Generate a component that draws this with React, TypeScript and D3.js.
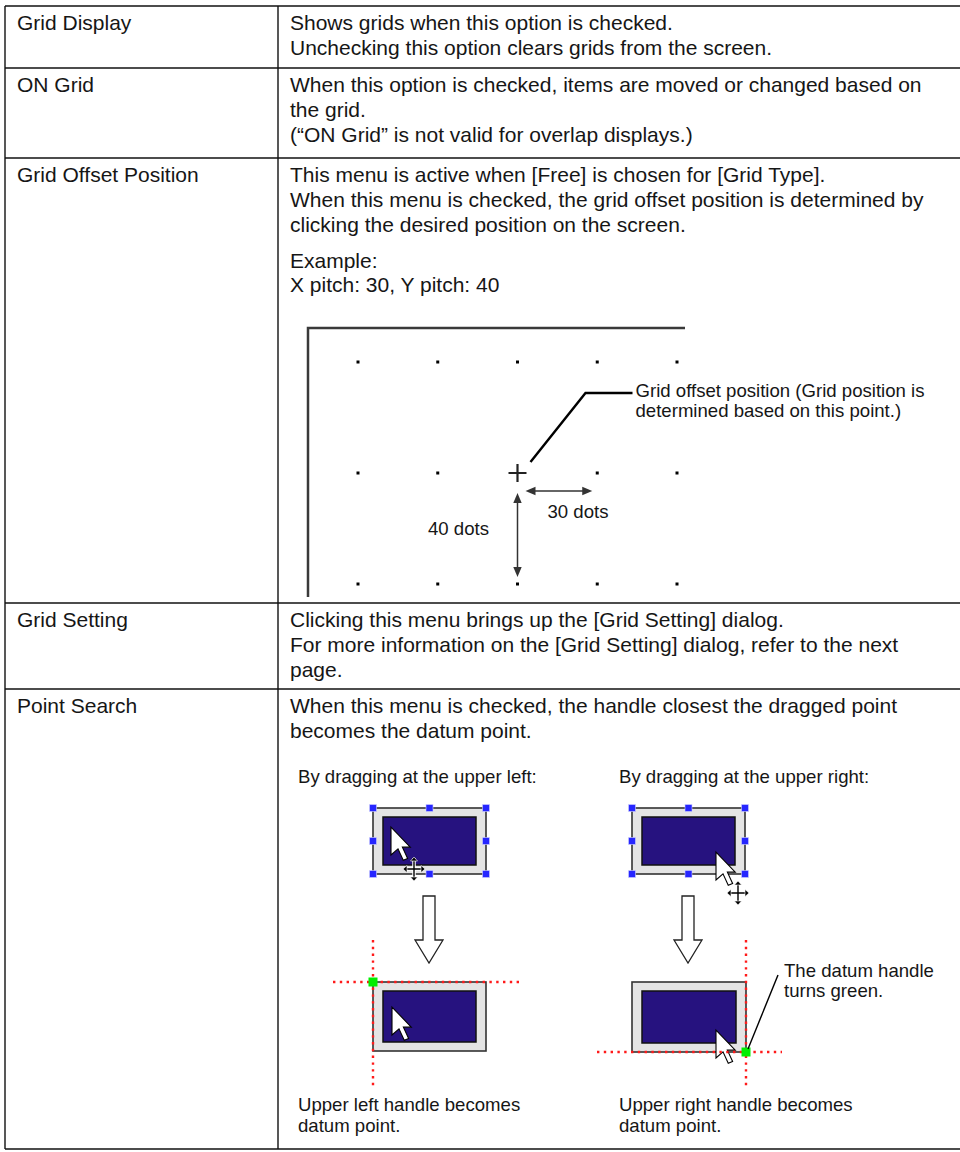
import React, { useEffect, useRef } from 'react';
import * as d3 from 'd3';

// table content
const rowLabels = ['Grid Display', 'ON Grid', 'Grid Offset Position', 'Grid Setting', 'Point Search'];
const rowDescriptions = [
  ['Shows grids when this option is checked.', 'Unchecking this option clears grids from the screen.'],
  ['When this option is checked, items are moved or changed based on', 'the grid.', '(\u201cON Grid\u201d is not valid for overlap displays.)'],
  ['This menu is active when [Free] is chosen for [Grid Type].', 'When this menu is checked, the grid offset position is determined by', 'clicking the desired position on the screen.'],
  ['Clicking this menu brings up the [Grid Setting] dialog.', 'For more information on the [Grid Setting] dialog, refer to the next', 'page.'],
  ['When this menu is checked, the handle closest the dragged point', 'becomes the datum point.'],
];
const exampleLines = ['Example:', 'X pitch: 30, Y pitch: 40'];

// grid example (dots)
const gridXValues = [0, 30, 60, 90, 120];
const gridYValues = [0, 40, 80];
const offsetPoint = [60, 40];
const pitchLabels = ['30 dots', '40 dots'];
const offsetNote = ['Grid offset position (Grid position is', 'determined based on this point.)'];

// point search example
const dragCaptions = ['By dragging at the upper left:', 'By dragging at the upper right:'];
const resultCaptions = [['Upper left handle becomes', 'datum point.'], ['Upper right handle becomes', 'datum point.']];
const datumNote = ['The datum handle', 'turns green.'];

const FONT = '"Liberation Sans", Arial, Helvetica, sans-serif';

const App = () => {
  const svgRef = useRef<SVGSVGElement>(null);

  useEffect(() => {
    const svg = d3.select(svgRef.current);
    svg.selectAll('*').remove();

    const rowEdges = [6, 68, 158, 603, 689, 1149];
    const colX = [5, 278, 962];
    const lineStep = 25;
    const bodySize = 21;
    const smallSize = 18.6;

    // table frame
    const table = svg.append('g').attr('stroke', '#111').attr('stroke-width', 1.4);
    table.selectAll('line.row')
      .data(rowEdges)
      .join('line')
      .attr('x1', colX[0]).attr('x2', colX[2])
      .attr('y1', d => d).attr('y2', d => d);
    table.selectAll('line.col')
      .data(colX)
      .join('line')
      .attr('x1', d => d).attr('x2', d => d)
      .attr('y1', rowEdges[0]).attr('y2', rowEdges[rowEdges.length - 1]);

    const text = svg.append('g').attr('font-family', FONT).attr('font-size', bodySize).attr('fill', '#161616');
    rowLabels.forEach((lab, i) => {
      text.append('text').attr('x', 17).attr('y', rowEdges[i] + 24).text(lab);
      text.selectAll(null)
        .data(rowDescriptions[i])
        .join('text')
        .attr('x', 290)
        .attr('y', (d, j) => rowEdges[i] + 24 + j * lineStep)
        .text(d => d);
    });
    text.selectAll(null)
      .data(exampleLines)
      .join('text')
      .attr('x', 290)
      .attr('y', (d, j) => rowEdges[2] + 24 + 2 * lineStep + 36 + j * 24)
      .text(d => d);

    // ---- grid offset diagram ----
    const x = d3.scaleLinear().domain([0, 120]).range([358, 677]);
    const y = d3.scaleLinear().domain([0, 80]).range([362, 584]);
    const dg = svg.append('g');

    dg.append('path')
      .attr('d', 'M308,597 V328 H685')
      .attr('fill', 'none')
      .attr('stroke', '#3a3a3a')
      .attr('stroke-width', 2.5);

    const pts = d3.cross(gridXValues, gridYValues).filter(([gx, gy]) => !(gx === offsetPoint[0] && gy === offsetPoint[1]));
    dg.selectAll('rect.dot')
      .data(pts)
      .join('rect')
      .attr('x', d => x(d[0]) - 1.5)
      .attr('y', d => y(d[1]) - 1.5)
      .attr('width', 3)
      .attr('height', 3)
      .attr('fill', '#000');

    const ox = x(offsetPoint[0]);
    const oy = y(offsetPoint[1]);
    dg.append('path')
      .attr('d', `M${ox - 9},${oy} H${ox + 9} M${ox},${oy - 9} V${oy + 9}`)
      .attr('stroke', '#222')
      .attr('stroke-width', 2.2);

    dg.append('path')
      .attr('d', `M${ox + 13},${oy - 11} L${ox + 68},${oy - 80} H${ox + 115}`)
      .attr('fill', 'none')
      .attr('stroke', '#000')
      .attr('stroke-width', 2.4);
    dg.selectAll('text.note')
      .data(offsetNote)
      .join('text')
      .attr('x', ox + 118)
      .attr('y', (d, j) => oy - 76 + j * 20)
      .attr('font-family', FONT)
      .attr('font-size', smallSize)
      .attr('fill', '#161616')
      .text(d => d);

    const arrowHead = (tx: number, ty: number, dx: number, dy: number) => {
      const L = 10, W = 4.2;
      const bx = tx - dx * L, by = ty - dy * L;
      return `M${tx},${ty} L${bx - dy * W},${by + dx * W} L${bx + dy * W},${by - dx * W} Z`;
    };
    // horizontal pitch arrow
    const hx0 = ox + 8, hx1 = x(offsetPoint[0] + 30) - 5, hy = oy + 18;
    dg.append('line').attr('x1', hx0 + 6).attr('x2', hx1 - 6).attr('y1', hy).attr('y2', hy)
      .attr('stroke', '#333').attr('stroke-width', 1.5);
    dg.append('path').attr('d', arrowHead(hx0, hy, -1, 0)).attr('fill', '#333');
    dg.append('path').attr('d', arrowHead(hx1, hy, 1, 0)).attr('fill', '#333');
    // vertical pitch arrow
    const vy0 = oy + 20, vy1 = y(offsetPoint[1] + 40) - 7;
    dg.append('line').attr('x1', ox).attr('x2', ox).attr('y1', vy0 + 6).attr('y2', vy1 - 6)
      .attr('stroke', '#333').attr('stroke-width', 1.5);
    dg.append('path').attr('d', arrowHead(ox, vy0, 0, -1)).attr('fill', '#333');
    dg.append('path').attr('d', arrowHead(ox, vy1, 0, 1)).attr('fill', '#333');

    dg.append('text').attr('x', 578).attr('y', hy + 27)
      .attr('text-anchor', 'middle').attr('font-family', FONT).attr('font-size', smallSize).attr('fill', '#161616')
      .text(pitchLabels[0]);
    dg.append('text').attr('x', ox - 59).attr('y', oy + 62)
      .attr('text-anchor', 'middle').attr('font-family', FONT).attr('font-size', smallSize).attr('fill', '#161616')
      .text(pitchLabels[1]);

    // ---- point search diagram ----
    const ps = svg.append('g');
    const capX = [298, 619];
    dragCaptions.forEach((c, i) => {
      ps.append('text').attr('x', capX[i]).attr('y', 783)
        .attr('font-family', FONT).attr('font-size', smallSize).attr('fill', '#161616').text(c);
    });
    resultCaptions.forEach((lines, i) => {
      ps.selectAll(null).data(lines).join('text')
        .attr('x', capX[i]).attr('y', (d, j) => 1111 + j * 21)
        .attr('font-family', FONT).attr('font-size', smallSize).attr('fill', '#161616').text(d => d);
    });

    const cursor = (cx: number, cy: number) => {
      const s = 1.75;
      const p = [[0, 0], [0, 16], [4, 12.5], [7, 19], [9.5, 18], [6.5, 11.5], [11, 11.5]]
        .map(([a, b]) => [cx + a * s, cy + b * s] as [number, number]);
      ps.append('path').attr('d', d3.line()(p) + 'Z')
        .attr('fill', '#fff').attr('stroke', '#000').attr('stroke-width', 1.1).attr('stroke-linejoin', 'miter');
    };

    const moveCursor = (cx: number, cy: number) => {
      const g = ps.append('g').attr('transform', `translate(${cx},${cy})`);
      const body = 'M-10,0 H10 M0,-11 V11';
      g.append('path').attr('d', body).attr('stroke', '#fff').attr('stroke-width', 3.5);
      g.append('path').attr('d', body).attr('stroke', '#000').attr('stroke-width', 1.4);
      const heads = 'M-11,0 L-7,-3.5 L-7,3.5 Z M11,0 L7,-3.5 L7,3.5 Z M0,-12 L-3.5,-8 L3.5,-8 Z M0,12 L-3.5,8 L3.5,8 Z';
      g.append('path').attr('d', heads).attr('fill', '#000').attr('stroke', '#fff').attr('stroke-width', 0.6);
    };

    const box = (x0: number, y0: number, x1: number, y1: number) => {
      ps.append('rect').attr('x', x0).attr('y', y0).attr('width', x1 - x0).attr('height', y1 - y0)
        .attr('fill', '#e4e4e4').attr('stroke', '#333').attr('stroke-width', 1.6);
      ps.append('rect').attr('x', x0 + 10).attr('y', y0 + 9).attr('width', x1 - x0 - 20).attr('height', y1 - y0 - 18)
        .attr('fill', '#26127f').attr('stroke', '#111').attr('stroke-width', 1.5);
    };

    const handles = (x0: number, y0: number, x1: number, y1: number) => {
      const hx = [x0, (x0 + x1) / 2, x1];
      const hy = [y0, (y0 + y1) / 2, y1];
      const hp = d3.cross(hx, hy).filter(([a, b]) => !(a === hx[1] && b === hy[1]));
      ps.selectAll(null).data(hp).join('rect')
        .attr('x', d => d[0] - 3.5).attr('y', d => d[1] - 3.5)
        .attr('width', 7).attr('height', 7)
        .attr('fill', '#2626ff').attr('stroke', '#cfd0ff').attr('stroke-width', 0.6);
    };

    const before = [[373, 808, 486, 874], [632, 808, 745, 874]];
    before.forEach(([x0, y0, x1, y1]) => { box(x0, y0, x1, y1); handles(x0, y0, x1, y1); });
    cursor(391, 827);
    moveCursor(414, 869);
    cursor(716, 852);
    moveCursor(738, 893);

    // hollow arrows
    [429, 688].forEach(cx => {
      const p = `M${cx - 6},896 V940 H${cx - 14} L${cx},963 L${cx + 14},940 H${cx + 6} V896 Z`;
      ps.append('path').attr('d', p).attr('fill', '#fff').attr('stroke', '#222').attr('stroke-width', 1.3);
    });

    const after = [[373, 982, 486, 1051], [632, 982, 746, 1052]];
    after.forEach(([x0, y0, x1, y1]) => box(x0, y0, x1, y1));
    cursor(392, 1007);
    cursor(716, 1030);

    const dotted = (x1: number, y1: number, x2: number, y2: number) => {
      ps.append('line').attr('x1', x1).attr('y1', y1).attr('x2', x2).attr('y2', y2)
        .attr('stroke', '#ff1a1a').attr('stroke-width', 2.4).attr('stroke-dasharray', '2.4,4.4');
    };
    dotted(373, 940, 373, 1087);
    dotted(333, 982, 520, 982);
    dotted(746, 940, 746, 1087);
    dotted(597, 1052, 782, 1052);

    [[373, 982], [746, 1052]].forEach(([gx, gy]) => {
      ps.append('rect').attr('x', gx - 4.5).attr('y', gy - 4.5).attr('width', 9).attr('height', 9).attr('fill', '#00ee00');
    });

    ps.append('line').attr('x1', 748).attr('y1', 1049).attr('x2', 778).attr('y2', 975)
      .attr('stroke', '#000').attr('stroke-width', 1.4);
    ps.selectAll(null).data(datumNote).join('text')
      .attr('x', 784).attr('y', (d, j) => 977 + j * 20)
      .attr('font-family', FONT).attr('font-size', smallSize).attr('fill', '#161616').text(d => d);
  }, []);

  return (
    <svg
      ref={svgRef}
      width={960}
      height={1152}
      style={{ position: 'absolute', left: 0, top: 0, background: '#fff' }}
    />
  );
};

export default App;
